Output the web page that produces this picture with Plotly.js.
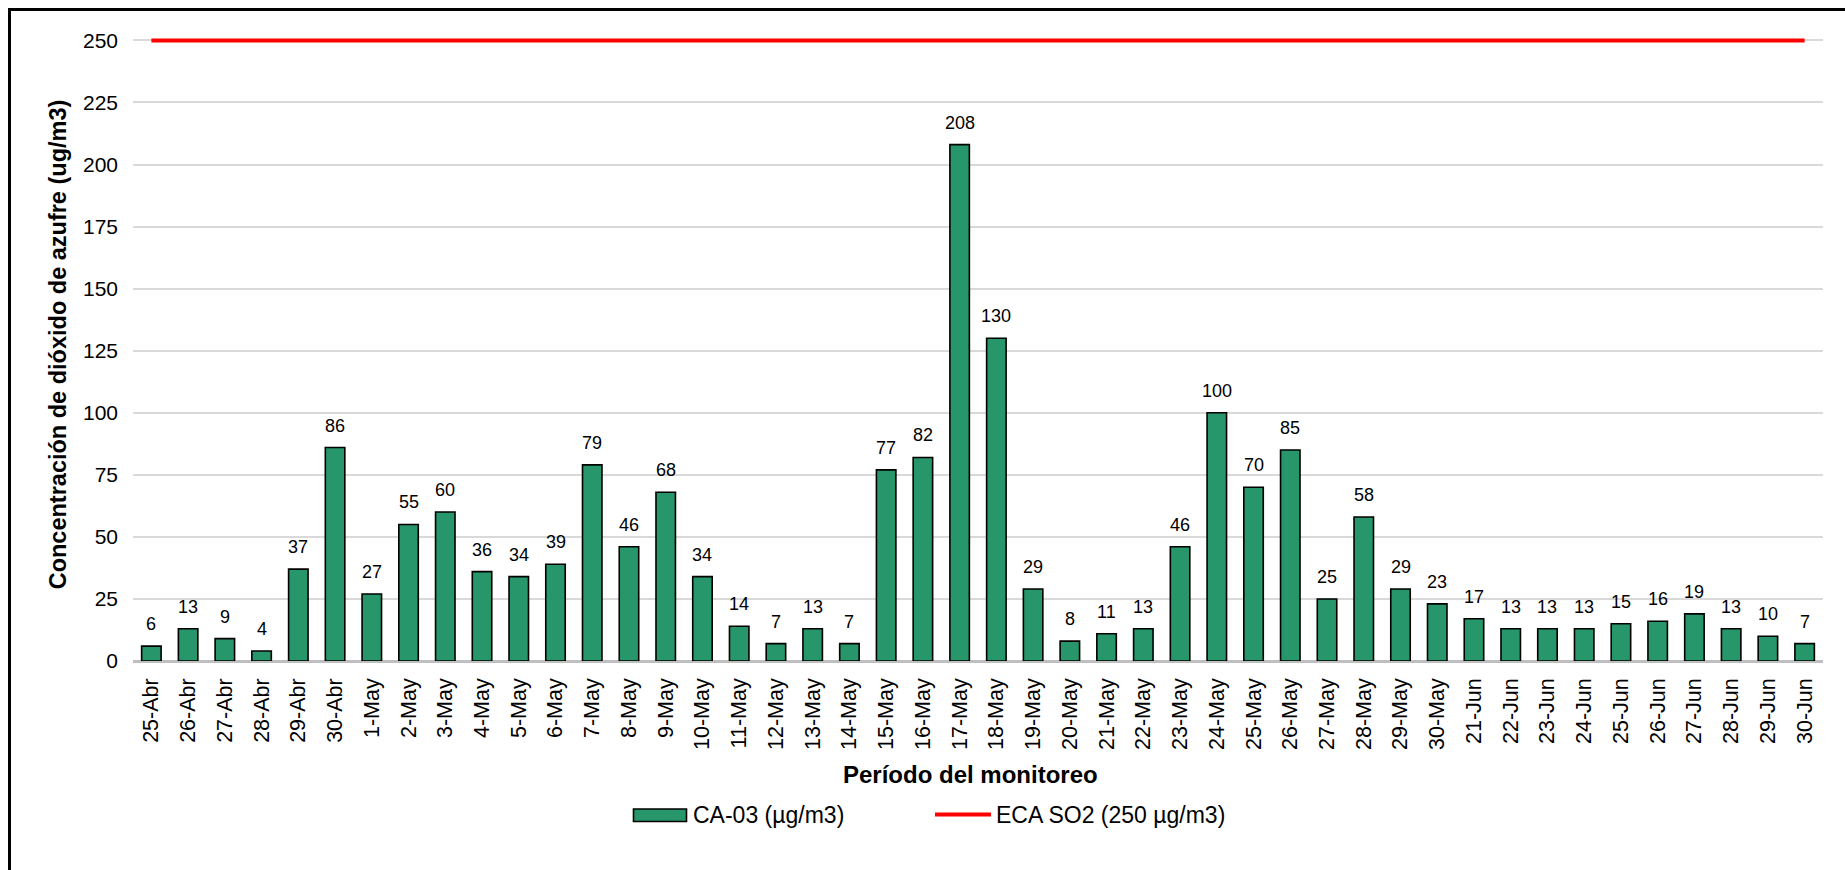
<!DOCTYPE html>
<html>
<head>
<meta charset="utf-8">
<script src="https://cdn.plot.ly/plotly-3.0.1.min.js"></script>
<style>
html,body{margin:0;padding:0;background:#fff;}
#chart{width:1845px;height:870px;}
</style>
</head>
<body>
<div id="chart"></div>
<script>
const categories = [
  '25-Abr','26-Abr','27-Abr','28-Abr','29-Abr','30-Abr',
  '1-May','2-May','3-May','4-May','5-May','6-May','7-May','8-May','9-May','10-May',
  '11-May','12-May','13-May','14-May','15-May','16-May','17-May','18-May','19-May','20-May',
  '21-May','22-May','23-May','24-May','25-May','26-May','27-May','28-May','29-May','30-May',
  '21-Jun','22-Jun','23-Jun','24-Jun','25-Jun','26-Jun','27-Jun','28-Jun','29-Jun','30-Jun'
];
const ca03Values = [
  6, 13, 9, 4, 37, 86,
  27, 55, 60, 36, 34, 39, 79, 46, 68, 34,
  14, 7, 13, 7, 77, 82, 208, 130, 29, 8,
  11, 13, 46, 100, 70, 85, 25, 58, 29, 23,
  17, 13, 13, 13, 15, 16, 19, 13, 10, 7
];
const ecaX = ['25-Abr', '30-Jun'];
const ecaY = [250, 250];
const yTicks = [0, 25, 50, 75, 100, 125, 150, 175, 200, 225, 250];

const seriesNames = ['CA-03 (µg/m3)', 'ECA SO2 (250 µg/m3)'];
const yTitle = 'Concentración de dióxido de azufre (ug/m3)';
const xTitle = 'Período del monitoreo';

const BASE = 'Liberation Sans, Arial, sans-serif';
const BAR_COLOR = '#27966A';
const LINE_COLOR = '#FF0000';

const M = {l: 133, r: 22, t: 28, b: 209};
const W = 1845, H = 870;
const pw = W - M.l - M.r, ph = H - M.t - M.b;
const px = v => (v - M.l) / pw;
const py = v => (H - M.b - v) / ph;

const bars = {
  type: 'bar',
  name: seriesNames[0],
  x: categories,
  y: ca03Values,
  marker: {color: BAR_COLOR, line: {color: '#000000', width: 1.6}},
  hoverinfo: 'x+y'
};
const eca = {
  type: 'scatter',
  mode: 'lines',
  name: seriesNames[1],
  x: ecaX,
  y: ecaY,
  line: {color: LINE_COLOR, width: 4},
  cliponaxis: false
};

const labelAnnotations = categories.map((c, i) => ({
  x: c, y: ca03Values[i], xref: 'x', yref: 'y',
  text: String(ca03Values[i]),
  showarrow: false, yanchor: 'bottom', yshift: 10,
  font: {family: BASE, size: 18, color: '#000000'}
}));

const textAnnotations = [
  {
    xref: 'paper', yref: 'paper',
    x: px(970), y: py(774),
    xanchor: 'center', yanchor: 'middle',
    text: '<b>' + xTitle + '</b>',
    showarrow: false,
    font: {family: BASE, size: 24, color: '#000000'}
  },
  {
    xref: 'paper', yref: 'paper',
    x: px(691), y: py(815),
    xanchor: 'left', yanchor: 'middle',
    text: seriesNames[0],
    showarrow: false,
    font: {family: BASE, size: 23, color: '#000000'}
  },
  {
    xref: 'paper', yref: 'paper',
    x: px(994), y: py(815),
    xanchor: 'left', yanchor: 'middle',
    text: seriesNames[1],
    showarrow: false,
    font: {family: BASE, size: 23, color: '#000000'}
  }
];

const layout = {
  width: W, height: H,
  margin: M,
  paper_bgcolor: '#ffffff',
  plot_bgcolor: '#ffffff',
  bargap: 0.47,
  showlegend: false,
  xaxis: {
    type: 'category',
    tickangle: -90,
    tickfont: {family: BASE, size: 21.5, color: '#000000'},
    ticklabelstandoff: 12,
    showgrid: false,
    showline: false,
    ticks: '',
    fixedrange: true
  },
  yaxis: {
    range: [0, 255],
    tickvals: yTicks,
    ticktext: yTicks.map(String),
    tickfont: {family: BASE, size: 21, color: '#000000'},
    ticklabelstandoff: 14,
    showgrid: true,
    gridcolor: '#D9D9D9',
    gridwidth: 2,
    zeroline: true,
    zerolinecolor: '#BFBFBF',
    zerolinewidth: 3,
    ticks: '',
    title: {
      text: yTitle,
      font: {family: BASE, size: 23.5, color: '#000000', weight: 'bold'},
      standoff: 9
    },
    fixedrange: true
  },
  annotations: labelAnnotations.concat(textAnnotations),
  shapes: [
    {
      type: 'rect', xref: 'paper', yref: 'paper',
      x0: px(9.5), x1: px(1900), y0: py(950), y1: py(9.5),
      line: {color: '#000000', width: 3},
      fillcolor: 'rgba(0,0,0,0)',
      layer: 'above'
    },
    {
      type: 'rect', xref: 'paper', yref: 'paper',
      x0: px(633.5), x1: px(686.5), y0: py(821.5), y1: py(809),
      line: {color: '#000000', width: 1.6},
      fillcolor: BAR_COLOR,
      layer: 'above'
    },
    {
      type: 'line', xref: 'paper', yref: 'paper',
      x0: px(935), x1: px(991), y0: py(814.5), y1: py(814.5),
      line: {color: LINE_COLOR, width: 4},
      layer: 'above'
    }
  ]
};

Plotly.newPlot('chart', [bars, eca], layout, {displayModeBar: false, staticPlot: true});
</script>
</body>
</html>
